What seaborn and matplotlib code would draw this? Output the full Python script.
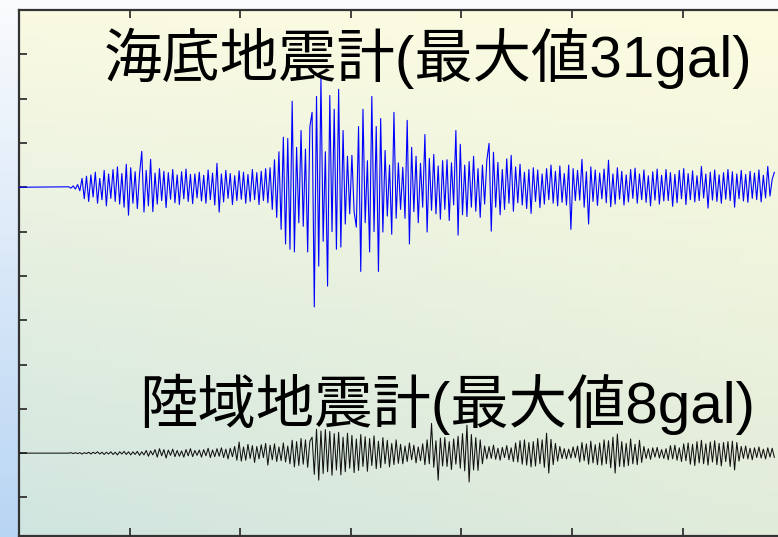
import numpy as np
import pandas as pd
import seaborn as sns
import matplotlib.pyplot as plt

# seafloor (blue) and land (black) accelerograms, one value every 0.2 s from t0
dt = 0.2
t0 = 4.5
seafloor = [
    0.1, -0.2, 0.3, -0.4, 0.6, -0.8, 2.0, -2.6, 2.5, -3.2,
    2.8, -2.2, 3.4, -3.6, 2.0, -2.8, 3.8, -4.2, 3.0, -2.5,
    4.0, -3.2, 4.6, -3.8, 3.1, -4.5, 5.2, -6.3, 4.4, -3.6,
    3.5, -4.8, 3.0, 8.1, -5.6, 3.8, -4.2, 6.3, -5.5, 3.2,
    -3.8, 4.2, -3.0, 3.6, -4.6, 3.3, -2.7, 4.0, -3.5, 2.8,
    -3.9, 3.5, -2.6, 4.1, -3.2, 2.9, -3.7, 3.0, -2.4, 3.4,
    -3.1, 2.7, -3.6, 3.9, -2.8, 3.2, -4.0, 5.4, -5.6, 3.0,
    -3.3, 3.8, -2.5, 3.1, -3.9, 2.6, -3.0, 3.7, -2.7, 3.4,
    -3.6, 2.9, -3.2, 4.0, -2.8, 3.3, -3.9, 3.6, -3.0, 4.2,
    -3.5, 4.4, -5.0, 6.2, -6.8, 8.0, -9.5, 11.3, -12.8, 11.0,
    -14.0, 19.4, -14.6, 9.0, -8.0, 12.8, -8.8, 8.6, -14.6, 13.7,
    16.9, -27.0, 20.5, -17.8, 24.8, -12.2, 8.0, -22.3, 20.7, -10.0,
    17.6, -14.0, 22.1, -13.5, 12.8, -8.3, 7.0, -6.0, 7.2, -5.5,
    -9.0, 13.7, -19.0, 17.6, -8.0, 6.0, -14.6, 20.5, -10.0, 13.7,
    -19.0, 15.5, -10.1, 8.3, -6.5, 5.0, -10.6, 16.9, -7.0, 5.5,
    -5.0, 4.5, -7.0, 15.1, -12.8, 9.0, -5.5, 7.0, -8.0, 5.4,
    -4.5, 11.9, -10.1, 6.5, -5.2, 7.4, -6.0, 4.8, -7.2, 6.0,
    -5.0, 6.2, -7.5, 5.5, -4.0, 12.8, -10.8, 9.7, -6.2, 5.0,
    -6.6, 5.8, -4.5, 7.0, -5.4, 4.2, -6.8, 5.0, -3.8, 6.1,
    9.9, -9.9, 7.9, -4.5, 5.6, -6.2, 4.0, -5.0, 6.4, -3.6,
    7.2, -5.4, 4.6, -3.5, 5.2, -4.0, 3.4, -4.8, 4.0, -5.9,
    4.4, -3.2, 3.9, -4.6, 3.0, -3.8, 4.2, -2.8, 5.0, -3.6,
    3.6, -4.2, 4.8, -3.4, 3.1, -4.0, 5.0, -9.5, 4.2, -3.0,
    3.8, -2.9, 6.3, -4.5, 3.5, -8.3, 4.6, -3.2, 3.9, -4.1,
    3.2, -2.6, 4.1, -3.5, 6.1, -4.4, 3.0, -3.8, 4.4, -2.7,
    3.6, -4.0, 2.8, -3.3, 4.0, -2.5, 4.3, -3.6, 3.0, -2.8,
    3.9, -3.4, 2.6, -4.2, 3.5, -2.9, 4.1, -3.8, 2.7, -3.1,
    4.0, -3.0, 3.3, -4.3, 2.9, -3.5, 3.8, -2.6, 4.2, -3.9,
    3.1, -2.8, 3.7, -3.3, 2.6, -3.0, 4.7, -2.4, 3.0, -4.7,
    3.4, -2.9, 3.9, -3.2, 2.8, -3.6, 3.3, -2.7, 4.0, -3.0,
    3.5, -4.5, 3.0, -2.6, 3.8, -3.1, 2.9, -3.4, 3.6, -2.5,
    3.2, -2.8, 3.9, -3.3, 2.7, -2.4, 4.7, -2.0, 1.8, 3.4,
]
land = [
    0.0, 0.1, -0.1, 0.1, -0.1, 0.1, -0.2, 0.1, -0.1, 0.2,
    -0.2, 0.2, -0.1, 0.3, -0.2, 0.2, -0.3, 0.2, -0.2, 0.3,
    -0.3, 0.2, -0.4, 0.3, -0.2, 0.4, -0.3, 0.3, -0.4, 0.3,
    -0.3, 0.4, -0.5, 0.3, -0.4, 0.6, -0.7, 0.5, -0.4, 0.8,
    -0.9, 1.0, -0.6, 0.8, -1.1, 0.7, -0.5, 0.9, -0.8, 0.6,
    -0.7, 0.5, -0.9, 0.8, -0.6, 1.0, -0.8, 0.6, -0.5, 0.7,
    -0.9, 0.8, -0.6, 1.1, -1.0, 0.7, -0.8, 1.0, -0.7, 1.2,
    -1.0, 0.9, -1.3, 1.1, -0.8, 1.5, -1.6, 2.5, -1.8, 1.4,
    -1.6, 2.0, -1.2, 1.7, -2.1, 1.5, -1.3, 1.9, -1.0, 2.2,
    -2.7, 1.8, -1.5, 2.1, -1.9, 1.4, -1.7, 2.3, -2.0, 1.6,
    -2.4, 2.9, -3.1, 2.6, -2.8, 3.3, -2.5, 3.0, -3.2, 2.7,
    3.6, -4.8, 5.4, -6.1, 5.0, -4.6, 5.3, -4.2, 4.9, -5.0,
    4.4, -3.8, 4.7, -4.9, 3.6, -4.2, 4.5, -3.4, 4.0, -4.4,
    3.2, -3.9, 4.2, -3.0, 3.7, -4.1, 3.3, -2.8, 3.9, -3.5,
    2.7, -3.3, 3.5, -2.4, 2.9, -3.1, 2.2, -2.6, 3.0, -2.3,
    2.0, -2.4, 1.6, -1.9, 2.3, -1.5, 1.8, -2.2, 1.4, -1.7,
    2.1, -2.6, 3.0, -2.4, 6.7, -3.2, 2.8, -6.1, 3.4, -2.9,
    3.5, -3.0, 2.6, -3.7, 3.2, -2.5, 3.8, -3.4, 4.4, -4.0,
    6.3, -6.5, 4.2, -3.8, 3.5, -3.9, 3.0, -2.4, 1.6, -1.3,
    1.5, -1.2, 1.8, -1.4, 1.1, -1.6, 1.3, -1.0, 1.7, -1.5,
    1.2, -1.9, 2.3, -2.0, 2.8, -2.5, 3.0, -2.7, 2.4, -3.1,
    2.6, -2.9, 3.3, -2.4, 3.0, -3.2, 4.5, -4.5, 3.1, -2.6,
    2.2, -1.8, 1.5, -1.2, 1.0, -1.3, 0.9, -1.1, 1.4, -1.0,
    1.6, -2.0, 2.4, -1.7, 2.1, -2.5, 2.7, -2.2, 1.9, -2.6,
    2.3, -2.7, 3.0, -2.4, 2.8, -3.3, 3.6, -4.5, 4.3, -3.0,
    2.6, -3.1, 2.2, -2.8, 3.2, -2.4, 2.0, -2.6, 2.9, -2.1,
    1.5, -1.2, 1.0, -1.4, 1.2, -0.9, 1.3, -1.1, 0.8, -1.2,
    1.0, -1.5, 1.7, -1.3, 1.8, -1.6, 1.2, -1.9, 2.1, -1.7,
    2.3, -2.5, 2.0, -2.8, 2.6, -2.2, 2.9, -2.4, 2.1, -2.7,
    2.5, -2.0, 2.8, -2.6, 2.2, -2.9, 2.4, -1.9, 2.6, -3.0,
    2.7, -3.8, 2.4, -1.8, 1.5, -1.2, 1.6, -1.3, 1.1, -1.5,
    1.2, -1.0, 1.4, -1.1, 0.9, -1.3, 1.2, -0.9, 1.1, -1.0,
]
offsets = {'seafloor': 60, 'land': 0}
labels = {'seafloor': '海底地震計(最大値31gal)', 'land': '陸域地震計(最大値8gal)'}


def trace(vals, off):
    t = np.r_[0.0, t0 + dt * np.arange(len(vals))]
    a = np.r_[0.0, vals] + off
    return pd.DataFrame({'t': t, 'a': a})


sns.set_style('white')
plt.rcParams['font.family'] = ['Liberation Sans', 'Noto Sans CJK JP', 'DejaVu Sans']

fig = plt.figure(figsize=(7.78, 5.37), dpi=100)

# page background (pale blue fading upward)
bg = fig.add_axes([0, 0, 1, 1], zorder=-2)
col = np.linspace([250, 251, 253], [184, 213, 243], 100)[:, None, :] / 255
bg.imshow(col, aspect='auto', extent=[0, 1, 0, 1])
bg.axis('off')

W, H = 778, 537
ax = fig.add_axes([19 / W, 1 / H, (820 - 19) / W, 526 / H])
xmax = (820 - 19) / 11.06
ylo, yhi = -18.7, 100

# plot area gradient: pale yellow on top, greenish toward the bottom
tl, tr = np.array([250, 250, 226]), np.array([252, 252, 224])
bl, br = np.array([208, 229, 224]), np.array([226, 236, 218])
v = np.linspace(0, 1, 60)[:, None, None]
h = np.linspace(0, 1, 60)[None, :, None]
grad = ((1 - v) * ((1 - h) * tl + h * tr) + v * ((1 - h) * bl + h * br)) / 255
ax.imshow(grad, aspect='auto', extent=[0, xmax, ylo, yhi], zorder=0)

sns.lineplot(data=trace(land, offsets['land']), x='t', y='a', ax=ax,
             color='#111111', lw=0.75, zorder=3)
sns.lineplot(data=trace(seafloor, offsets['seafloor']), x='t', y='a', ax=ax,
             color='#0000ff', lw=0.8, zorder=3)

ax.text(7.7, 84.9, labels['seafloor'], fontsize=42, color='black',
        va='baseline', ha='left', zorder=4)
ax.text(10.9, 6.8, labels['land'], fontsize=42, color='black',
        va='baseline', ha='left', zorder=4)

ax.set_xlim(0, xmax)
ax.set_ylim(ylo, yhi)
ax.set_xticks(np.arange(10, 71, 10))
ax.set_yticks(np.arange(-10, 100, 10))
ax.set_xticklabels([])
ax.set_yticklabels([])
ax.set_xlabel('')
ax.set_ylabel('')
ax.tick_params(direction='in', length=6, width=1.3, color='#333333',
               top=True, bottom=True, left=True, right=False)
for s in ax.spines.values():
    s.set_color('#333333')
    s.set_linewidth(1.6)

fig.savefig('out.png', dpi=100)
